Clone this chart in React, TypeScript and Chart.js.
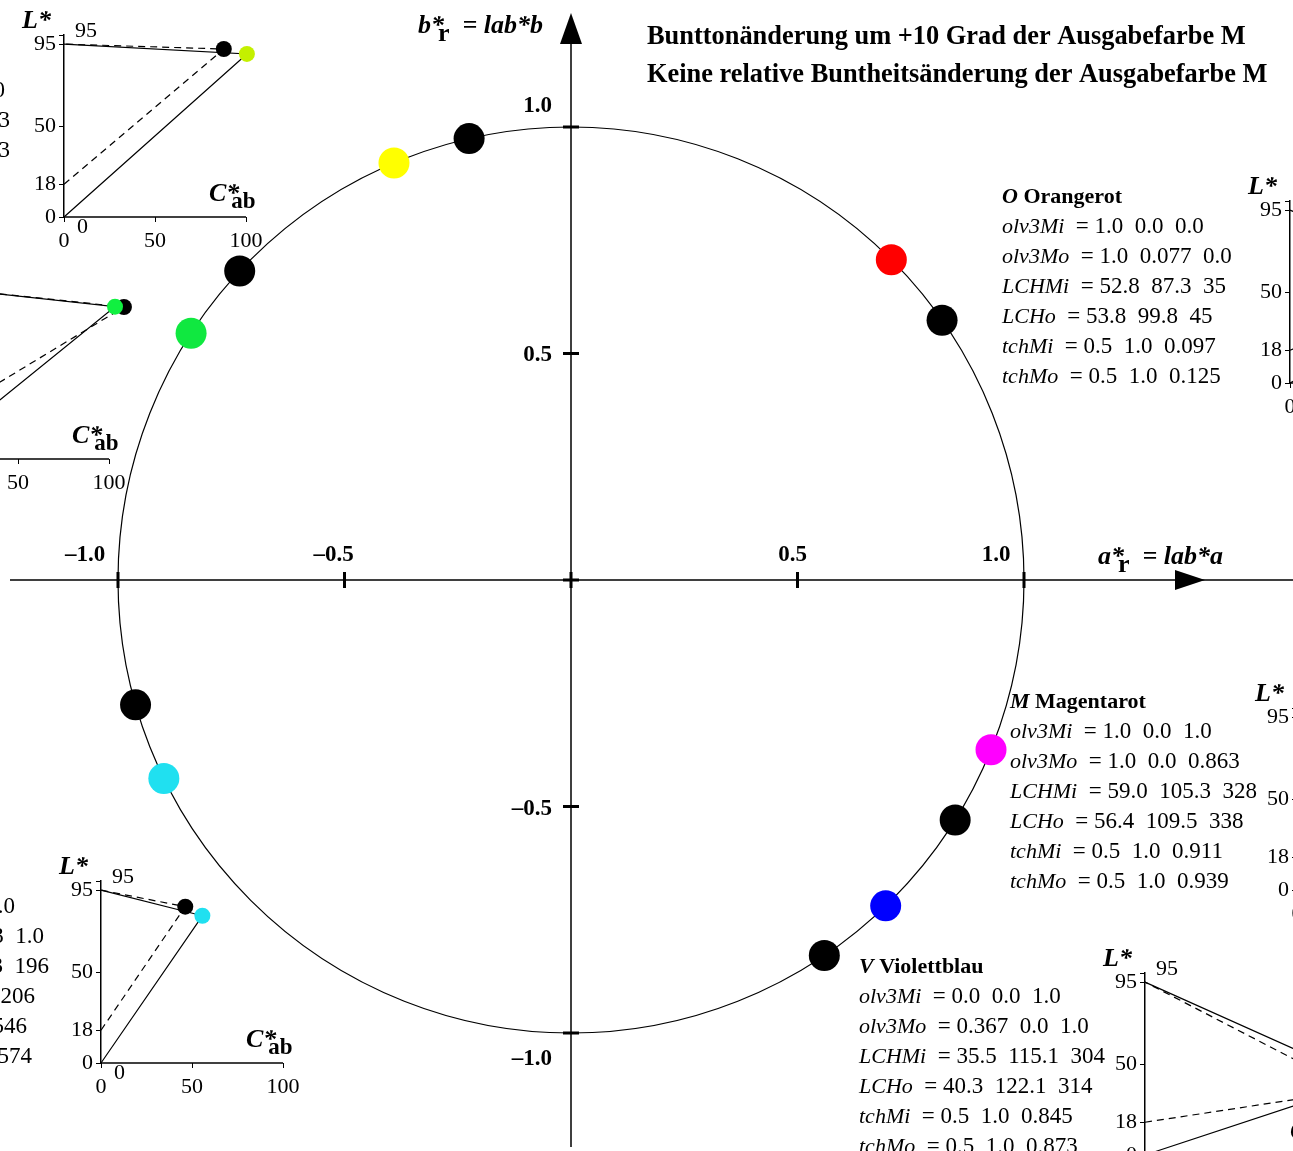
import React, { useEffect, useRef } from 'react';
import { Chart, registerables } from 'chart.js';

Chart.register(...registerables);

const W = 1293;
const H = 1151;

// ---------- data: main hue circle ----------
const hueIn = [35, 103, 137, 196, 304, 328];
const hueOut = [45, 113, 147, 206, 314, 338];
const relChromaIn = [1, 1, 1, 1, 1, 1];
const relChromaOut = [1, 1, 1, 1, 1, 1];
const outColors = ['#ff0000', '#ffff00', '#10e840', '#20e0f0', '#0000ff', '#ff00ff'];

const axisTicks = [-1, -0.5, 0.5, 1];
const axisTickLabels = ['\u20131.0', '\u20130.5', '0.5', '1.0'];

// ---------- data: L* / C*ab insets ----------
const insetIds = ['O', 'Y', 'G', 'C', 'V', 'M'];
const lchMiL = [52.8, 92.3, 83.5, 85.9, 35.5, 59.0];
const lchMiC = [87.3, 87.8, 108.2, 46.3, 115.1, 105.3];
const lchMoL = [53.8, 89.6, 83.7, 80.9, 40.3, 56.4];
const lchMoC = [99.8, 100.5, 103.3, 55.7, 122.1, 109.5];
const insetColors = ['#ff0000', '#c4f000', '#10f040', '#20e0f0', '#0000ff', '#ff00ff'];
const insetLTicks = [0, 18, 50, 95, 100];
const insetCTicks = [0, 50, 100];

// ---------- text blocks ----------
const titleLines = [
  'Bunttonänderung um +10 Grad der Ausgabefarbe M',
  'Keine relative Buntheitsänderung der Ausgabefarbe M',
];
const rowLabels = ['olv3Mi', 'olv3Mo', 'LCHMi', 'LCHo', 'tchMi', 'tchMo'];
const valsO = ['1.0  0.0  0.0', '1.0  0.077  0.0', '52.8  87.3  35', '53.8  99.8  45', '0.5  1.0  0.097', '0.5  1.0  0.125'];
const valsM = ['1.0  0.0  1.0', '1.0  0.0  0.863', '59.0  105.3  328', '56.4  109.5  338', '0.5  1.0  0.911', '0.5  1.0  0.939'];
const valsV = ['0.0  0.0  1.0', '0.367  0.0  1.0', '35.5  115.1  304', '40.3  122.1  314', '0.5  1.0  0.845', '0.5  1.0  0.873'];
const valsY = ['0.826  1.0  0.0', '92.3  87.8  103', '89.6  100.5  113'];
const labelsY = ['olv3Mo', 'LCHMi', 'LCHo'];
const valsC = ['0.0  1.0  1.0', '0.0  0.883  1.0', '85.9  46.3  196', '80.9  55.7  206', '0.5  1.0  0.546', '0.5  1.0  0.574'];

// ---------- layout (pixels) ----------
const CX = 571;
const CY = 580;
const PPU = 453;
const insetOrigins: [number, number][] = [
  [1290, 383],
  [64, 217],
  [-73, 459],
  [101, 1063],
  [1145, 1155],
  [1297, 890],
];
const IPL = 60, IPR = 40, IPT = 45, IPB = 40, IPLOT = 182;
const IXMAX = 150;
const IPLOTW = (IPLOT * IXMAX) / 100;

const SERIF = '"Liberation Serif", "Times New Roman", Times, serif';
const fnt = (style: string, size: number) => `${style} ${size}px ${SERIF}`;

type Run = { t: string; f: string; dx?: number; dy?: number };

function runsWidth(ctx: CanvasRenderingContext2D, runs: Run[]) {
  let w = 0;
  for (const r of runs) {
    ctx.font = r.f;
    w += (r.dx || 0) + ctx.measureText(r.t).width;
  }
  return w;
}

function drawRuns(ctx: CanvasRenderingContext2D, x: number, y: number, runs: Run[], align: 'left' | 'right' = 'left') {
  let cx = align === 'right' ? x - runsWidth(ctx, runs) : x;
  ctx.textAlign = 'left';
  ctx.textBaseline = 'alphabetic';
  for (const r of runs) {
    ctx.font = r.f;
    cx += r.dx || 0;
    ctx.fillText(r.t, cx, y + (r.dy || 0));
    cx += ctx.measureText(r.t).width;
  }
}

function rowRuns(label: string, val: string): Run[] {
  return [
    { t: label, f: fnt('italic', 22) },
    { t: '  = ' + val, f: fnt('normal', 23) },
  ];
}

function drawBlock(ctx: CanvasRenderingContext2D, x: number, y0: number, letter: string, name: string, vals: string[]) {
  drawRuns(ctx, x, y0, [
    { t: letter, f: fnt('italic bold', 22) },
    { t: ' ' + name, f: fnt('bold', 22) },
  ]);
  rowLabels.forEach((lab, i) => drawRuns(ctx, x, y0 + 30 * (i + 1), rowRuns(lab, vals[i])));
}

const mainPlugin = {
  id: 'mainDecor',
  beforeDatasetsDraw(chart: any) {
    const ctx: CanvasRenderingContext2D = chart.ctx;
    const xs = chart.scales.x;
    const ys = chart.scales.y;
    const px = (v: number) => xs.getPixelForValue(v);
    const py = (v: number) => ys.getPixelForValue(v);
    const ox = px(0);
    const oy = py(0);
    ctx.save();
    ctx.strokeStyle = '#000';
    ctx.fillStyle = '#000';
    // unit circle
    ctx.lineWidth = 1.2;
    ctx.beginPath();
    ctx.arc(ox, oy, px(1) - ox, 0, Math.PI * 2);
    ctx.stroke();
    // axes
    ctx.lineWidth = 1.5;
    ctx.beginPath();
    ctx.moveTo(10, oy);
    ctx.lineTo(W, oy);
    ctx.moveTo(ox, 30);
    ctx.lineTo(ox, 1147);
    ctx.stroke();
    // arrow heads
    ctx.beginPath();
    ctx.moveTo(ox, 13);
    ctx.lineTo(ox - 11, 44);
    ctx.lineTo(ox + 11, 44);
    ctx.closePath();
    ctx.fill();
    ctx.beginPath();
    ctx.moveTo(1205, oy);
    ctx.lineTo(1175, oy - 10);
    ctx.lineTo(1175, oy + 10);
    ctx.closePath();
    ctx.fill();
    // tick marks
    ctx.lineWidth = 3;
    ctx.beginPath();
    for (const v of [...axisTicks, 0]) {
      ctx.moveTo(px(v), oy - 8);
      ctx.lineTo(px(v), oy + 8);
      ctx.moveTo(ox - 8, py(v));
      ctx.lineTo(ox + 8, py(v));
    }
    ctx.stroke();
    ctx.restore();
  },
  afterDraw(chart: any) {
    const ctx: CanvasRenderingContext2D = chart.ctx;
    const xs = chart.scales.x;
    const ys = chart.scales.y;
    const px = (v: number) => xs.getPixelForValue(v);
    const py = (v: number) => ys.getPixelForValue(v);
    const ox = px(0);
    const oy = py(0);
    ctx.save();
    ctx.fillStyle = '#000';
    // tick labels
    const xdx = [-33, -11, -5, -28];
    const ydy = [32, 8, 7, -15];
    ctx.font = fnt('bold', 23);
    axisTicks.forEach((v, i) => {
      ctx.textAlign = 'center';
      ctx.textBaseline = 'alphabetic';
      ctx.fillText(axisTickLabels[i], px(v) + xdx[i], oy - 19);
      ctx.textAlign = 'right';
      ctx.fillText(axisTickLabels[i], ox - 19, py(v) + ydy[i]);
    });
    // axis names
    drawRuns(ctx, 418, 33, [
      { t: 'b*', f: fnt('italic bold', 26) },
      { t: 'r', f: fnt('bold', 26), dx: -6, dy: 8 },
      { t: '  = lab*b', f: fnt('italic bold', 26) },
    ]);
    drawRuns(ctx, 1098, 564, [
      { t: 'a*', f: fnt('italic bold', 26) },
      { t: 'r', f: fnt('bold', 26), dx: -6, dy: 8 },
      { t: '  = lab*a', f: fnt('italic bold', 26) },
    ]);
    // title
    ctx.font = fnt('bold', 26.4);
    ctx.textAlign = 'left';
    ctx.fillText(titleLines[0], 647, 44);
    ctx.fillText(titleLines[1], 647, 82);
    // text blocks
    drawBlock(ctx, 1002, 203, 'O', 'Orangerot', valsO);
    drawBlock(ctx, 1010, 708, 'M', 'Magentarot', valsM);
    drawBlock(ctx, 859, 973, 'V', 'Violettblau', valsV);
    // blocks cut at the left edge
    const yRight = [5, 10, 10];
    labelsY.forEach((lab, i) => drawRuns(ctx, yRight[i], 97 + 30 * i, rowRuns(lab, valsY[i]), 'right'));
    const cRight = [15, 44, 49, 35, 27, 32];
    rowLabels.forEach((lab, i) => drawRuns(ctx, cRight[i], 913 + 30 * i, rowRuns(lab, valsC[i]), 'right'));
    ctx.restore();
  },
};

function MainChart() {
  const ref = useRef<HTMLCanvasElement | null>(null);
  useEffect(() => {
    if (!ref.current) return;
    const pts = (hues: number[], rs: number[]) =>
      hues.map((h, i) => ({
        x: rs[i] * Math.cos((h * Math.PI) / 180),
        y: rs[i] * Math.sin((h * Math.PI) / 180),
      }));
    const chart = new Chart(ref.current, {
      type: 'scatter',
      data: {
        datasets: [
          {
            data: pts(hueIn, relChromaIn),
            pointRadius: 15.5,
            pointBackgroundColor: '#000',
            pointBorderWidth: 0,
            borderWidth: 0,
          },
          {
            data: pts(hueOut, relChromaOut),
            pointRadius: 15.5,
            pointBackgroundColor: outColors,
            pointBorderWidth: 0,
            borderWidth: 0,
          },
        ],
      },
      options: {
        responsive: false,
        maintainAspectRatio: false,
        animation: false,
        events: [],
        layout: { padding: 0, autoPadding: false },
        plugins: { legend: { display: false }, tooltip: { enabled: false } },
        scales: {
          x: { type: 'linear', display: false, min: -CX / PPU, max: (W - CX) / PPU },
          y: { type: 'linear', display: false, min: -(H - CY) / PPU, max: CY / PPU },
        },
      },
      plugins: [mainPlugin],
    } as any);
    return () => chart.destroy();
  }, []);
  return <canvas ref={ref} width={W} height={H} style={{ position: 'absolute', left: 0, top: 0, display: 'block' }} />;
}

const insetPlugin = {
  id: 'insetDecor',
  afterDatasetsDraw(chart: any) {
    const ctx: CanvasRenderingContext2D = chart.ctx;
    const xs = chart.scales.x;
    const ox = xs.getPixelForValue(0);
    const oy = chart.scales.y.getPixelForValue(0);
    ctx.save();
    // C*ab axis line from 0 to 100
    ctx.strokeStyle = '#000';
    ctx.lineWidth = 1.5;
    ctx.beginPath();
    ctx.moveTo(ox, oy);
    ctx.lineTo(xs.getPixelForValue(insetCTicks[insetCTicks.length - 1]), oy);
    ctx.stroke();
    ctx.fillStyle = '#000';
    drawRuns(ctx, ox - 42, oy - 189, [{ t: 'L*', f: fnt('italic bold', 26) }]);
    drawRuns(ctx, ox + 11, oy - 180, [{ t: '95', f: fnt('normal', 22) }]);
    drawRuns(ctx, ox + 13, oy + 16, [{ t: '0', f: fnt('normal', 22) }]);
    drawRuns(ctx, ox + 145, oy - 16, [
      { t: 'C*', f: fnt('italic bold', 26) },
      { t: 'ab', f: fnt('bold', 23), dx: -8, dy: 7 },
    ]);
    ctx.restore();
  },
};

function Inset({ i }: { i: number }) {
  const ref = useRef<HTMLCanvasElement | null>(null);
  const cw = IPL + IPLOTW + IPR;
  const ch = IPT + IPLOT + IPB;
  useEffect(() => {
    if (!ref.current) return;
    const tickFont = { family: SERIF, size: 22 };
    const chart = new Chart(ref.current, {
      type: 'scatter',
      data: {
        datasets: [
          {
            data: [
              { x: 0, y: 18 },
              { x: lchMiC[i], y: lchMiL[i] },
              { x: 0, y: 95 },
            ],
            showLine: true,
            borderColor: '#000',
            borderWidth: 1.2,
            borderDash: [7, 5],
            pointRadius: [0, 8, 0],
            pointBackgroundColor: '#000',
            pointBorderWidth: 0,
            clip: false,
            order: 2,
          },
          {
            data: [
              { x: 0, y: 0 },
              { x: lchMoC[i], y: lchMoL[i] },
              { x: 0, y: 95 },
            ],
            showLine: true,
            borderColor: '#000',
            borderWidth: 1.2,
            pointRadius: [0, 8, 0],
            pointBackgroundColor: insetColors[i],
            pointBorderWidth: 0,
            clip: false,
            order: 1,
          },
        ],
      },
      options: {
        responsive: false,
        maintainAspectRatio: false,
        animation: false,
        events: [],
        layout: { padding: { top: IPT, right: IPR, left: 0, bottom: 0 }, autoPadding: false },
        plugins: { legend: { display: false }, tooltip: { enabled: false } },
        scales: {
          x: {
            type: 'linear',
            min: 0,
            max: IXMAX,
            afterFit: (s: any) => {
              s.height = IPB;
            },
            afterBuildTicks: (s: any) => {
              s.ticks = insetCTicks.map((v) => ({ value: v }));
            },
            ticks: { font: tickFont, color: '#000', padding: 6, maxRotation: 0, autoSkip: false },
            grid: { drawOnChartArea: false, drawTicks: true, tickLength: 5, color: '#000' },
            border: { display: false },
          },
          y: {
            type: 'linear',
            min: 0,
            max: 100,
            afterFit: (s: any) => {
              s.width = IPL;
            },
            afterBuildTicks: (s: any) => {
              s.ticks = insetLTicks.map((v) => ({ value: v }));
            },
            ticks: {
              font: tickFont,
              color: '#000',
              padding: 3,
              autoSkip: false,
              callback: (v: any) => (v === 100 ? '' : String(v)),
            },
            grid: { drawOnChartArea: false, drawTicks: true, tickLength: 5, color: '#000' },
            border: { display: true, color: '#000', width: 1.5 },
          },
        },
      },
      plugins: [insetPlugin],
    } as any);
    return () => chart.destroy();
  }, [i]);
  const [ox, oy] = insetOrigins[i];
  return (
    <canvas
      ref={ref}
      width={cw}
      height={ch}
      style={{ position: 'absolute', left: ox - IPL, top: oy - IPT - IPLOT, display: 'block' }}
    />
  );
}

export default function App() {
  return (
    <div
      style={{
        position: 'fixed',
        left: 0,
        top: 0,
        width: W,
        height: H,
        overflow: 'hidden',
        background: '#fff',
      }}
    >
      <MainChart />
      {insetIds.map((id, i) => (
        <Inset key={id} i={i} />
      ))}
    </div>
  );
}
